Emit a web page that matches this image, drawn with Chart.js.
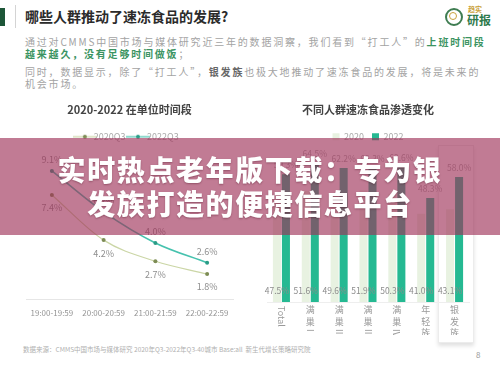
<!DOCTYPE html>
<html>
<head>
<meta charset="utf-8">
<script src="https://cdn.jsdelivr.net/npm/chart.js@4.4.0/dist/chart.umd.min.js"></script>
<style>
  html, body { margin: 0; padding: 0; }
  body {
    width: 500px; height: 375px; position: relative; overflow: hidden;
    background: #fff; font-family: "Noto Sans CJK SC", "Noto Sans", sans-serif;
  }
  .abs { position: absolute; }
  .mark { left: 0; top: 8px; width: 5px; height: 18px; background: #1d5638; }
  .sep { left: 15px; top: 5px; width: 1px; height: 23px; background: #d4d4d4; }
  .title { left: 25px; top: 6px; font-size: 14px; font-weight: bold; color: #2b2b2b; white-space: nowrap; }
  .para { left: 25px; font-size: 10px; letter-spacing: 1.8px; line-height: 11.5px; color: #a3a3a3; white-space: nowrap; }
  .para b.g { color: #3b9462; }
  .para b.d { color: #666; }
  .logo-ring { left: 445px; top: 8px; width: 14px; height: 14px; border: 2px solid #3f7d52; border-radius: 50%; }
  .logo-in { left: 449px; top: 12px; width: 6px; height: 6px; border: 1.5px solid #c9a13b; border-radius: 50%; }
  .logo-t1 { left: 468px; top: 4px; font-size: 7px; color: #c9a13b; font-weight: bold; }
  .logo-t2 { left: 467px; top: 11px; font-size: 12px; color: #2f7a4c; font-weight: bold; }
  .box { left: 438px; top: 145px; width: 34px; height: 196px; border: 1px solid #ececec; box-shadow: 0 3px 4px rgba(0,0,0,0.12); background: #fff; }
  .chart { top: 95px; width: 250px; height: 240px; }
  .source { left: 23px; top: 344px; font-size: 6.5px; color: #b0b0b0; white-space: nowrap; }
  .page { left: 476px; top: 349px; font-size: 8px; color: #999; }
  .banner {
    left: 0; top: 138px; width: 500px; height: 97px; background: rgba(158, 48, 88, 0.64);
    color: #fff; font-weight: 900; font-size: 28px; letter-spacing: 1.6px; line-height: 34px;
    text-align: center; padding-top: 14px; box-sizing: border-box; text-shadow: 0 1px 2px rgba(60,0,20,0.35);
  }
</style>
</head>
<body>
<div class="abs mark"></div>
<div class="abs sep"></div>
<div class="abs title">哪些人群推动了速冻食品的发展?</div>
<div class="abs logo-ring"></div>
<div class="abs logo-in"></div>
<div class="abs logo-t1">趋实</div>
<div class="abs logo-t2">研报</div>
<div class="abs para" style="top:36px">通过对CMMS中国市场与媒体研究近三年的数据洞察，我们看到“打工人”的<b class="g">上班时间段</b><br><b class="g">越来越久，没有足够时间做饭</b>；</div>
<div class="abs para" style="top:66px">同时，数据显示，除了“打工人”，<b class="d">银发族</b>也极大地推动了速冻食品的发展，将是未来的<br>机会市场。</div>

<div class="abs box"></div>
<div class="abs chart" style="left:0"><canvas id="timeChart"></canvas></div>
<div class="abs chart" style="left:250px"><canvas id="groupChart"></canvas></div>

<div class="abs source">数据来源：CMMS中国市场与媒体研究 2020年Q3-2022年Q3-40城市 Base:all&nbsp;&nbsp;新生代增长策略研究院</div>
<div class="abs page">8</div>
<div class="abs banner">实时热点老年版下载：专为银<br>发族打造的便捷信息平台</div>

<script>
// left: share of people still at work per time slot
const timeSlots = ['19:00-19:59', '20:00-20:59', '21:00-21:59', '22:00-22:59'];
const q3of2020 = [7.4, 4.2, 2.7, 1.8];
const q3of2022 = [9.1, 6.2, 4.0, 2.6];

// right: frozen food penetration by group
const groups = ['Total', '满巢I', '满巢II', '满巢III', '满巢IV', '年轻族', '银发族'];
const pen2020 = [47.5, 51.6, 49.6, 51.9, 50.3, 41.0, 43.1];
const pen2022 = [59.3, 64.5, 62.2, 62.3, 62.6, 48.3, 58.0];

document.addEventListener('DOMContentLoaded', function() {
    const font = '"Noto Sans CJK SC", "Noto Sans", sans-serif';
    Chart.defaults.font.family = font;
    Chart.defaults.color = '#9a9a9a';

    function legendLine(color, dot) {
        const c = document.createElement('canvas');
        c.width = 24; c.height = 6;
        const g = c.getContext('2d');
        g.strokeStyle = color; g.lineWidth = 1.2;
        g.beginPath(); g.moveTo(0, 3); g.lineTo(24, 3); g.stroke();
        g.fillStyle = dot;
        g.beginPath(); g.arc(12, 3, 2, 0, Math.PI * 2); g.fill();
        return c;
    }

    // value labels: 2022 above the point, 2020 below
    const lineLabels = {
        id: 'lineLabels',
        afterDatasetsDraw(chart) {
            const ctx = chart.ctx;
            ctx.save();
            ctx.font = '9px ' + font;
            ctx.fillStyle = '#8f8f8f';
            ctx.textAlign = 'center';
            ctx.textBaseline = 'middle';
            chart.data.datasets.forEach((ds, i) => {
                const shift = i === 0 ? 13 : -11;
                chart.getDatasetMeta(i).data.forEach((pt, j) => {
                    ctx.fillText(ds.data[j].toFixed(1) + '%', pt.x, pt.y + shift);
                });
            });
            ctx.restore();
        }
    };

    new Chart(document.getElementById('timeChart').getContext('2d'), {
        type: 'line',
        data: {
            labels: timeSlots,
            datasets: [{
                label: '2020Q3',
                data: q3of2020,
                borderColor: '#cbd6a6',
                borderWidth: 1.2,
                pointBackgroundColor: '#7d8c55',
                pointBorderWidth: 0,
                pointRadius: 2,
                cubicInterpolationMode: 'monotone'
            }, {
                label: '2022Q3',
                data: q3of2022,
                borderColor: '#46c2ae',
                borderWidth: 1.6,
                pointBackgroundColor: '#2a9c86',
                pointBorderWidth: 0,
                pointRadius: 2,
                cubicInterpolationMode: 'monotone'
            }]
        },
        options: {
            responsive: true,
            maintainAspectRatio: false,
            animation: false,
            layout: { padding: { left: 26, right: 17, bottom: 8 } },
            plugins: {
                title: {
                    display: true,
                    text: '2020-2022 在单位时间段',
                    color: '#444',
                    font: { size: 11 },
                    padding: { top: 8, bottom: 8 }
                },
                legend: {
                    labels: {
                        usePointStyle: true,
                        font: { size: 9 },
                        color: '#aaa',
                        padding: 8,
                        generateLabels(chart) {
                            const items = Chart.defaults.plugins.legend.labels.generateLabels(chart);
                            items[0].pointStyle = legendLine('#cbd6a6', '#7d8c55');
                            items[1].pointStyle = legendLine('#46c2ae', '#2a9c86');
                            return items;
                        }
                    }
                },
                tooltip: { enabled: false }
            },
            scales: {
                x: {
                    offset: true,
                    grid: { display: false, drawTicks: false },
                    border: { color: '#e6e6e6' },
                    ticks: { font: { size: 8 }, color: '#959595', padding: 9, maxRotation: 0 }
                },
                y: { display: false, min: 0, max: 10.5 }
            }
        },
        plugins: [lineLabels]
    });

    const barLabels = {
        id: 'barLabels',
        afterDatasetsDraw(chart) {
            const ctx = chart.ctx;
            const base = chart.chartArea.bottom;
            ctx.save();
            ctx.font = '8.5px ' + font;
            ctx.textAlign = 'center';
            ctx.textBaseline = 'middle';
            chart.getDatasetMeta(0).data.forEach((bar, j) => {
                ctx.fillStyle = '#8c8c8c';
                ctx.fillText(pen2020[j].toFixed(1) + '%', bar.x, base - 11);
            });
            chart.getDatasetMeta(1).data.forEach((bar, j) => {
                ctx.fillStyle = '#ababab';
                ctx.fillText(pen2022[j].toFixed(1) + '%', bar.x, bar.y - 9);
            });
            ctx.restore();
        }
    };

    // category names written top to bottom, latin parts turned sideways
    const verticalTicks = {
        id: 'verticalTicks',
        afterDraw(chart) {
            const ctx = chart.ctx;
            const xs = chart.scales.x;
            ctx.save();
            ctx.font = '9px ' + font;
            ctx.fillStyle = '#999';
            ctx.textAlign = 'center';
            ctx.textBaseline = 'middle';
            groups.forEach((label, i) => {
                const cx = xs.getPixelForValue(i);
                let y = chart.chartArea.bottom + 3;
                label.match(/[A-Za-z]+|[^A-Za-z]/g).forEach(run => {
                    if (/[A-Za-z]/.test(run)) {
                        const w = ctx.measureText(run).width;
                        ctx.save();
                        ctx.translate(cx, y + w / 2 + 1);
                        ctx.rotate(Math.PI / 2);
                        ctx.fillText(run, 0, 0);
                        ctx.restore();
                        y += w + 2;
                    } else {
                        ctx.fillText(run, cx, y + 5);
                        y += 11.5;
                    }
                });
            });
            ctx.restore();
        }
    };

    new Chart(document.getElementById('groupChart').getContext('2d'), {
        type: 'bar',
        data: {
            labels: groups,
            datasets: [{
                label: '2020',
                data: pen2020,
                backgroundColor: '#e8f2e1',
                categoryPercentage: 0.625,
                barPercentage: 0.89
            }, {
                label: '2022',
                data: pen2022,
                backgroundColor: '#25b992',
                categoryPercentage: 0.625,
                barPercentage: 0.89
            }]
        },
        options: {
            responsive: true,
            maintainAspectRatio: false,
            animation: false,
            layout: { padding: { left: 17, right: 31, bottom: 33 } },
            plugins: {
                title: {
                    display: true,
                    text: '不同人群速冻食品渗透变化',
                    color: '#444',
                    font: { size: 11 },
                    padding: { top: 8, bottom: 8 }
                },
                legend: {
                    labels: {
                        boxWidth: 7,
                        boxHeight: 7,
                        font: { size: 9 },
                        color: '#aaa',
                        padding: 8
                    }
                },
                tooltip: { enabled: false }
            },
            scales: {
                x: {
                    grid: { display: false, drawTicks: false },
                    border: { color: '#eeeeee' },
                    ticks: { display: false }
                },
                y: { display: false, min: 0, max: 70 }
            }
        },
        plugins: [barLabels, verticalTicks]
    });
});
</script>
</body>
</html>
